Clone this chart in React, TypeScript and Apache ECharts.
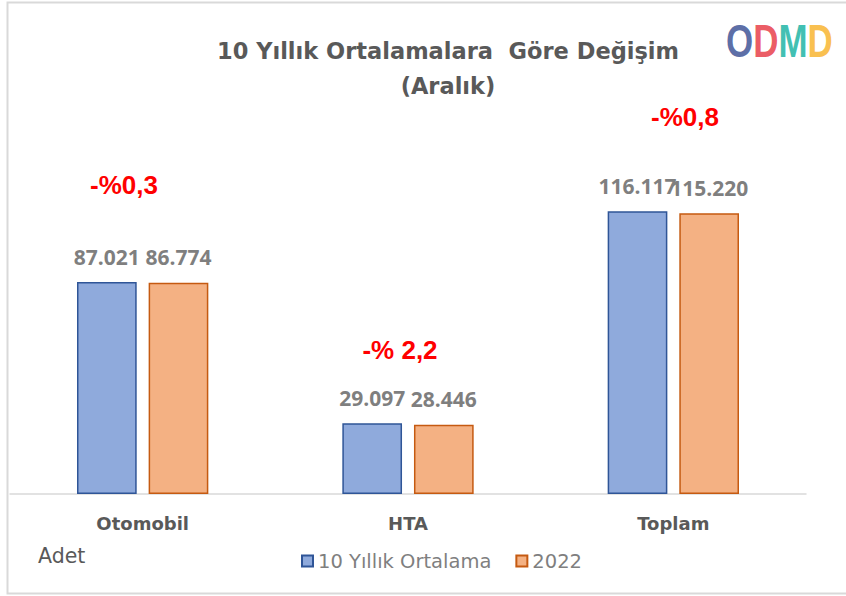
import React, { useEffect, useRef } from "react";
import * as echarts from "echarts";

const categories = ["Otomobil", "HTA", "Toplam"];
const avg10 = [87021, 29097, 116117];
const y2022 = [86774, 28446, 115220];
const changes = ["-%0,3", "-% 2,2", "-%0,8"];
const seriesNames = ["10 Yıllık Ortalama", "2022"];

const fmt = (v: number) => v.toLocaleString("de-DE");

export default function App() {
  const ref = useRef<HTMLDivElement>(null);
  useEffect(() => {
    const chart = echarts.init(ref.current!, null, { renderer: "svg" });
    const gridLeft = 10;
    const gridRight = 40;
    const gridTop = 153;
    const gridBottom = 596 - 494;
    const yMax = 140000;
    const valueLabel = {
      show: true,
      position: "top",
      distance: 15,
      formatter: (p: any) => fmt(p.value),
      fontFamily: "Open Sans",
      fontWeight: "bold",
      fontSize: 21,
      color: "#7f7f7f",
    };
    const changePos = [
      [124, 185],
      [400, 350],
      [685, 117],
    ];
    const logoFont = { fontFamily: "Liberation Sans", fontWeight: "bold", fontSize: 46 };
    chart.setOption({
      animation: false,
      backgroundColor: "#ffffff",
      title: {
        text: "10 Yıllık Ortalamalara  Göre Değişim\n(Aralık)",
        left: 443,
        top: 28,
        textAlign: "center",
        textStyle: {
          fontFamily: "DejaVu Sans",
          fontWeight: "bold",
          fontSize: 22.5,
          color: "#595959",
          lineHeight: 35,
        },
      },
      legend: {
        data: seriesNames,
        left: 296,
        top: 546,
        itemWidth: 11,
        itemHeight: 11,
        itemGap: 24,
        icon: "rect",
        textStyle: { fontFamily: "DejaVu Sans", fontSize: 19.5, color: "#7f7f7f" },
      },
      grid: { left: gridLeft, right: gridRight, top: gridTop, bottom: gridBottom, containLabel: false },
      xAxis: {
        type: "category",
        data: categories,
        axisLine: { show: true, lineStyle: { color: "#d9d9d9", width: 1.5 } },
        axisTick: { show: false },
        axisLabel: {
          fontFamily: "DejaVu Sans",
          fontSize: 18,
          fontWeight: "bold",
          color: "#595959",
          margin: 20,
        },
      },
      yAxis: {
        type: "value",
        min: 0,
        max: yMax,
        show: false,
        splitLine: { show: false },
      },
      series: [
        {
          name: seriesNames[0],
          type: "bar",
          data: avg10,
          barWidth: "22.5%",
          barGap: "20%",
          itemStyle: { color: "#8faadc", borderColor: "#2f5597", borderWidth: 1.5 },
          label: valueLabel,
        },
        {
          name: seriesNames[1],
          type: "bar",
          data: y2022,
          barWidth: "22.5%",
          itemStyle: { color: "#f4b183", borderColor: "#c55a11", borderWidth: 1.5 },
          label: valueLabel,
        },
      ],
      graphic: [
        {
          type: "polyline",
          shape: { points: [[860, 2.5], [7.5, 2.5], [7.5, 593.5], [860, 593.5]] },
          style: { stroke: "#d9d9d9", fill: null, lineWidth: 2 },
          silent: true,
        },
        {
          type: "text",
          left: 38,
          top: 545,
          style: { text: "Adet", fontFamily: "DejaVu Sans", fontSize: 20.5, fill: "#595959" },
        },
        ...changes.map((c, i) => ({
          type: "text",
          x: changePos[i][0],
          y: changePos[i][1],
          style: {
            text: c,
            fontFamily: "Liberation Sans",
            fontWeight: "bold",
            fontSize: 26,
            fill: "#ff0000",
            textAlign: "center",
            textVerticalAlign: "middle",
          },
        })),
        {
          type: "text",
          x: 726,
          y: 41,
          scaleX: 0.76,
          style: {
            text: "{a|O}{b|D}{c|M}{d|D}",
            textVerticalAlign: "middle",
            rich: {
              a: { ...logoFont, fill: "#3f5597", opacity: 0.85 },
              b: { ...logoFont, fill: "#e8404a", opacity: 0.85 },
              c: { ...logoFont, fill: "#1fb5a5", opacity: 0.85 },
              d: { ...logoFont, fill: "#f8b530", opacity: 0.85 },
            },
          },
        },
      ],
    });
    return () => chart.dispose();
  }, []);
  return (
    <div
      ref={ref}
      style={{ position: "fixed", left: 0, top: 0, width: 846, height: 596 }}
    />
  );
}
